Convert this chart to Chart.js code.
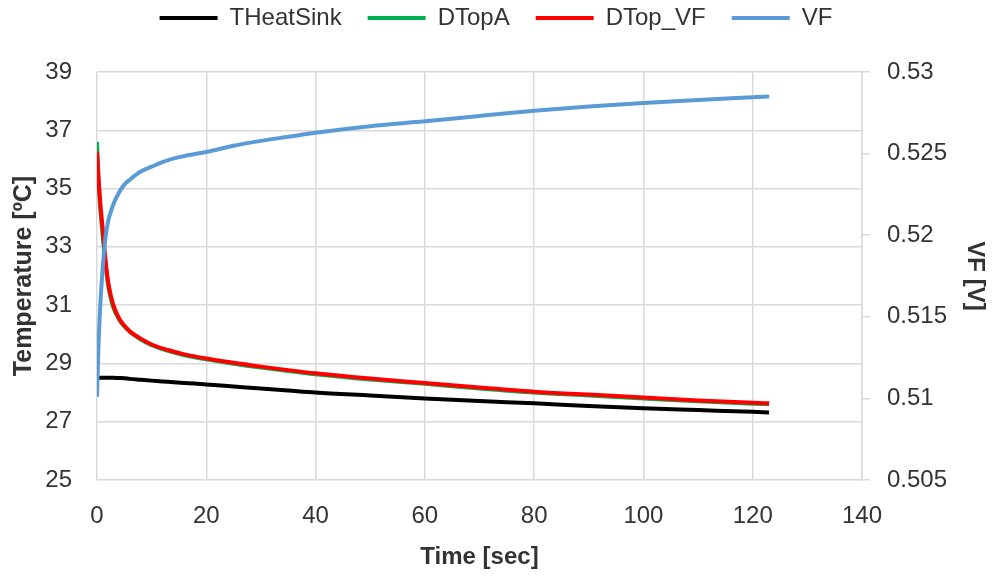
<!DOCTYPE html>
<html>
<head>
<meta charset="utf-8">
<script src="https://cdn.jsdelivr.net/npm/chart.js@4/dist/chart.umd.min.js"></script>
<style>
  html, body { margin: 0; padding: 0; background: #fff; }
  #wrap { width: 992px; height: 581px; }
</style>
</head>
<body>
<div id="wrap"><canvas id="chart" width="992" height="581"></canvas></div>
<script>
// time axis (sec)
const timeSec = [0, 0.3, 0.6, 1, 1.5, 2, 2.5, 3, 4, 5, 6, 8, 10, 13, 16, 20, 25, 30, 35, 40, 50, 60, 70, 80, 90, 100, 110, 120, 123];

// temperatures (ºC), left axis
const tHeatSink = [28.5, 28.5, 28.51, 28.51, 28.51, 28.51, 28.51, 28.51, 28.5, 28.49, 28.47, 28.44, 28.41, 28.37, 28.33, 28.28, 28.21, 28.14, 28.07, 28.0, 27.9, 27.8, 27.71, 27.63, 27.54, 27.46, 27.4, 27.34, 27.32];
const dTopA = [36.6, 35.2, 34.3, 33.45, 32.5, 31.72, 31.25, 30.91, 30.52, 30.27, 30.09, 29.82, 29.63, 29.43, 29.28, 29.14, 28.99, 28.86, 28.74, 28.63, 28.45, 28.3, 28.14, 28.0, 27.9, 27.8, 27.7, 27.62, 27.6];
const dTopVF = [36.27, 35.3, 34.5, 33.7, 32.65, 31.85, 31.35, 31.0, 30.56, 30.3, 30.1, 29.85, 29.65, 29.46, 29.31, 29.17, 29.02, 28.89, 28.77, 28.66, 28.48, 28.33, 28.17, 28.03, 27.93, 27.83, 27.73, 27.65, 27.63];

// forward voltage (V), right axis
const vf = [0.5101, 0.5135, 0.5157, 0.5178, 0.5197, 0.5208, 0.5214, 0.5219, 0.5226, 0.5231, 0.5234, 0.5239, 0.5242, 0.5246, 0.52485, 0.5251, 0.52548, 0.52578, 0.52603, 0.52628, 0.52668, 0.52698, 0.52731, 0.52762, 0.52788, 0.5281, 0.52829, 0.52845, 0.5285];

const seriesNames = ['THeatSink', 'DTopA', 'DTop_VF', 'VF'];
const seriesColors = ['#000000', '#00b050', '#ff0000', '#5b9bd5'];

const toXY = arr => arr.map((v, i) => ({ x: timeSec[i], y: v }));

function lineSet(idx, values, axis, order) {
  return {
    label: seriesNames[idx],
    data: toXY(values),
    yAxisID: axis,
    borderColor: seriesColors[idx],
    backgroundColor: seriesColors[idx],
    borderWidth: 4,
    pointRadius: 0,
    pointStyle: 'line',
    cubicInterpolationMode: 'monotone',
    order: order
  };
}

// push the plot area down below the legend
const legendGap = {
  id: 'legendGap',
  beforeLayout(chart) {
    const lg = chart.legend;
    if (lg && !lg._gapPatched) {
      const fit = lg.fit.bind(lg);
      lg.fit = function () { fit(); this.height = 92; };
      lg._gapPatched = true;
    }
  }
};

Chart.defaults.font.family = "'Liberation Sans', Arial, sans-serif";
Chart.defaults.font.size = 24;
Chart.defaults.color = '#333';

const gridColor = '#d9d9d9';

new Chart(document.getElementById('chart').getContext('2d'), {
  type: 'line',
  data: {
    datasets: [
      lineSet(0, tHeatSink, 'yT', 4),
      lineSet(1, dTopA, 'yT', 3),
      lineSet(2, dTopVF, 'yT', 2),
      lineSet(3, vf, 'yV', 1)
    ]
  },
  options: {
    responsive: false,
    animation: false,
    layout: { padding: { top: -20, left: 0, right: 0, bottom: 0 } },
    plugins: {
      tooltip: { enabled: false },
      legend: {
        position: 'top',
        labels: {
          usePointStyle: true,
          pointStyle: 'line',
          pointStyleWidth: 58,
          boxHeight: 24,
          padding: 26,
          color: '#333',
          sort: (a, b) => a.datasetIndex - b.datasetIndex
        }
      }
    },
    scales: {
      x: {
        type: 'linear',
        min: 0, max: 140,
        ticks: { stepSize: 20, padding: 22 },
        grid: { color: gridColor, lineWidth: 1.5, drawTicks: false },
        border: { display: false },
        title: { display: true, text: 'Time [sec]', font: { weight: 'bold' }, padding: { top: 0, bottom: 9 } },
        afterFit: s => { s.height = 101; }
      },
      yT: {
        position: 'left',
        min: 25, max: 39,
        ticks: { stepSize: 2, padding: 25 },
        grid: { color: gridColor, lineWidth: 1.5, drawTicks: false },
        border: { display: false },
        title: { display: true, text: 'Temperature [ºC]', font: { weight: 'bold', size: 25 }, padding: { top: 9, bottom: 0 } },
        afterFit: s => { s.width = 97; }
      },
      yV: {
        position: 'right',
        min: 0.505, max: 0.53,
        ticks: { stepSize: 0.005, padding: 17, callback: v => String(parseFloat(v.toFixed(3))) },
        grid: { drawOnChartArea: false, drawTicks: true, tickLength: 8, color: gridColor, lineWidth: 1.5 },
        border: { display: true, color: gridColor, width: 1.5 },
        title: { display: true, text: 'VF [V]', font: { weight: 'bold' }, padding: { top: 3, bottom: 0 } },
        afterFit: s => { s.width = 130; }
      }
    }
  },
  plugins: [legendGap]
});
</script>
</body>
</html>
